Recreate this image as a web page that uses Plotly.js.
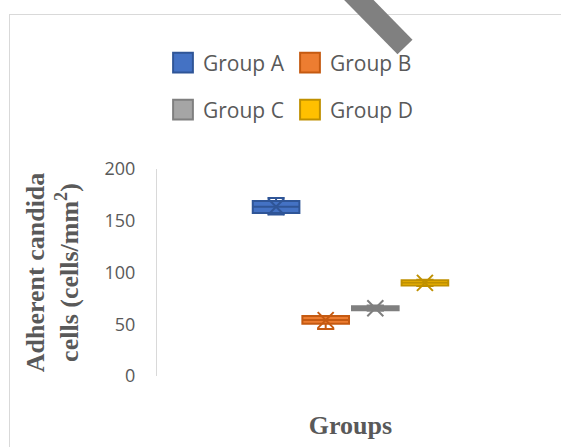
<!DOCTYPE html>
<html>
<head>
<meta charset="utf-8">
<script src="https://cdn.plot.ly/plotly-3.0.1.min.js"></script>
<style>
  html, body { margin: 0; padding: 0; background: #ffffff; overflow: hidden; }
  #wrap { position: relative; width: 561px; height: 447px; overflow: hidden; }
  #chart { position: absolute; left: 0; top: 0; width: 561px; height: 447px; }
  #frame { position: absolute; left: 9px; top: 14px; width: 700px; height: 600px;
           border: 1px solid #d9d9d9; pointer-events: none; }
  #mark { position: absolute; left: 0; top: 0; pointer-events: none; }
</style>
</head>
<body>
<div id="wrap">
  <div id="chart"></div>
  <div id="frame"></div>
  <svg id="mark" width="561" height="447">
    <line x1="351" y1="-8" x2="405" y2="47" stroke="#808080" stroke-width="21" stroke-linecap="butt"/>
  </svg>
</div>
<script>
// ---- data ----
var groups      = ['Group A', 'Group B', 'Group C', 'Group D'];
var lowerFence  = [156.0, 45.5, 63.0, 87.0];
var q1Values    = [157.5, 50.5, 63.5, 87.5];
var medians     = [163.5, 54.0, 65.5, 90.0];
var q3Values    = [169.0, 58.0, 67.5, 92.5];
var upperFence  = [172.0, 58.0, 68.0, 93.0];
var means       = [163.5, 54.0, 65.5, 90.0];

var yTickVals   = [0, 50, 100, 150, 200];
var yTickText   = ['0', '50', '100', '150', '200'];

// ---- styling ----
var fillColors  = ['#4472C4', '#ED7D31', '#A5A5A5', '#FFC000'];
var lineColors  = ['#2F5597', '#C55A11', '#7F7F7F', '#BF9000'];
var legendIds   = ['legend', 'legend', 'legend2', 'legend2'];

var traces = [];
groups.forEach(function (g, i) {
  traces.push({
    type: 'box',
    name: g,
    x: [g],
    q1: [q1Values[i]],
    median: [medians[i]],
    q3: [q3Values[i]],
    lowerfence: [lowerFence[i]],
    upperfence: [upperFence[i]],
    fillcolor: fillColors[i],
    line: { color: lineColors[i], width: 2 },
    whiskerwidth: 0.37,
    legend: legendIds[i],
    hoverinfo: 'skip'
  });
});
groups.forEach(function (g, i) {
  traces.push({
    type: 'scatter',
    mode: 'markers',
    x: [g],
    y: [means[i]],
    showlegend: false,
    marker: { symbol: 'x-thin-open', size: 16, color: lineColors[i], line: { width: 2, color: lineColors[i] } },
    hoverinfo: 'skip'
  });
});

var legendFont = { family: 'Open Sans, sans-serif', size: 21, color: '#595959' };

var layout = {
  width: 561,
  height: 447,
  margin: { l: 157, r: 17, t: 169, b: 71 },
  paper_bgcolor: 'rgba(0,0,0,0)',
  plot_bgcolor: 'rgba(0,0,0,0)',
  boxmode: 'overlay',
  boxgap: 0.06,
  boxgroupgap: 0,
  xaxis: {
    type: 'category',
    categoryarray: groups,
    range: [-2.4, 5.4],
    showticklabels: false,
    showgrid: false,
    zeroline: false,
    showline: false,
    ticks: '',
    title: { text: 'Groups', standoff: 39,
             font: { family: 'Liberation Serif, Times New Roman, serif', size: 26, color: '#595959', weight: 'bold' } }
  },
  yaxis: {
    range: [0, 200],
    tickvals: yTickVals,
    ticktext: yTickText,
    showgrid: false,
    zeroline: false,
    showline: true,
    linecolor: '#d9d9d9',
    linewidth: 1,
    ticks: '',
    ticklabelstandoff: 17,
    tickfont: { family: 'Open Sans, sans-serif', size: 18, color: '#595959' },
    title: { text: 'Adherent candida<br>cells (cells/mm<sup>2</sup>)', standoff: 18,
             font: { family: 'Liberation Serif, Times New Roman, serif', size: 26, color: '#595959', weight: 'bold' } }
  },
  legend: {
    orientation: 'h', xref: 'container', yref: 'container',
    x: 163 / 561, xanchor: 'left', y: 1 - 63 / 447, yanchor: 'middle',
    entrywidth: 82, entrywidthmode: 'pixels',
    font: legendFont, bgcolor: 'rgba(0,0,0,0)'
  },
  legend2: {
    orientation: 'h', xref: 'container', yref: 'container',
    x: 163 / 561, xanchor: 'left', y: 1 - 110 / 447, yanchor: 'middle',
    entrywidth: 82, entrywidthmode: 'pixels',
    font: legendFont, bgcolor: 'rgba(0,0,0,0)'
  },
  showlegend: true
};

Plotly.newPlot('chart', traces, layout, { displayModeBar: false, staticPlot: true }).then(function (gd) {
  // enlarge the legend swatches to match the reference's square keys
  var paths = gd.querySelectorAll('.legendpoints path');
  paths.forEach(function (p) {
    var t = p.getAttribute('transform') || '';
    p.setAttribute('transform', t + ' scale(1.65)');
    p.style.strokeWidth = '1.2px';
  });
});
</script>
</body>
</html>
